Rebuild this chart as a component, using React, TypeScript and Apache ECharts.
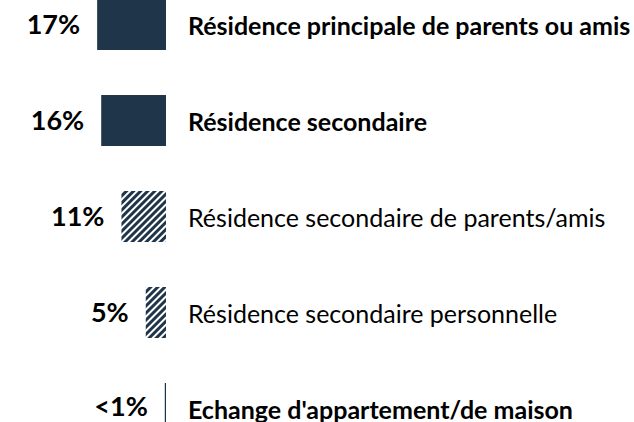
import React, { useEffect, useRef } from "react";
import * as echarts from "echarts";

const categories = [
  "Résidence principale de parents ou amis",
  "Résidence secondaire",
  "Résidence secondaire de parents/amis",
  "Résidence secondaire personnelle",
  "Echange d'appartement/de maison",
];
const values = [17, 16, 11, 5, 0.3];
const valueLabels = ["17%", "16%", "11%", "5%", "<1%"];
const hatched = [false, false, true, true, false];
const boldCategory = [true, true, false, false, true];

const NAVY = "#1F3549";
const FONT = "Lato, 'Noto Sans', sans-serif";

export default function App() {
  const ref = useRef<HTMLDivElement>(null);
  useEffect(() => {
    if (!ref.current) return;
    const chart = echarts.init(ref.current, undefined, { renderer: "svg" });
    const last = values.length - 1;
    const data = values.map((v, i) => ({
      value: v,
      label: i === last ? { offset: [0, -3] } : undefined,
      itemStyle: hatched[i]
        ? {
            color: "#ffffff",
            decal: {
              symbol: "rect",
              symbolSize: 1,
              color: NAVY,
              dashArrayX: [1, 0],
              dashArrayY: [2.2, 1.8],
              rotation: -Math.PI / 4,
            },
          }
        : { color: NAVY },
    }));
    chart.setOption({
      animation: false,
      grid: { left: 4, right: 468, top: 0.5, bottom: 0.5 },
      xAxis: { type: "value", inverse: true, min: 0, max: 40, show: false },
      yAxis: {
        type: "category",
        inverse: true,
        position: "right",
        data: categories,
        axisLine: { show: false },
        axisTick: { show: false },
        axisLabel: {
          margin: 22,
          align: "left",
          formatter: (val: string, idx: number) =>
            `{${boldCategory[idx] ? "b" : "n"}|${val}}`,
          rich: {
            b: { fontFamily: FONT, fontSize: 25, lineHeight: 22, fontWeight: "bold", color: "#000" },
            n: { fontFamily: FONT, fontSize: 25, lineHeight: 22, fontWeight: "normal", color: "#000" },
          },
        },
      },
      series: [
        {
          type: "bar",
          data,
          barWidth: 51,
          label: {
            show: true,
            position: "left",
            distance: 17,
            offset: [0, -1],
            fontFamily: FONT,
            fontSize: 27,
            lineHeight: 20,
            fontWeight: "bold",
            color: "#000",
            formatter: (p: any) => valueLabels[p.dataIndex],
          },
        },
      ],
    });
    return () => chart.dispose();
  }, []);
  return (
    <div
      style={{
        position: "absolute",
        left: 0,
        top: 0,
        width: 634,
        height: 422,
        overflow: "hidden",
      }}
    >
      <div
        ref={ref}
        style={{ position: "absolute", left: 0, top: -24, width: 634, height: 481 }}
      />
    </div>
  );
}
